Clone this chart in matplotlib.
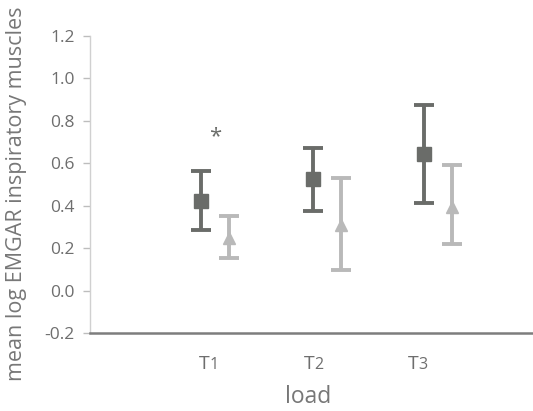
import numpy as np
import matplotlib
matplotlib.use("Agg")
import matplotlib.pyplot as plt
from matplotlib import transforms

# mean log EMGAR per load level, two conditions
loads = ["1", "2", "3"]
dark_mean = [0.424, 0.525, 0.644]
dark_hi = [0.565, 0.674, 0.875]
dark_lo = [0.286, 0.375, 0.414]
light_mean = [0.246, 0.309, 0.395]
light_hi = [0.353, 0.532, 0.592]
light_lo = [0.155, 0.097, 0.218]
star_y = 0.725

plt.rcParams['font.family'] = ['Open Sans', 'DejaVu Sans']

dark = "#6a6c69"
light = "#b9b9b9"
text_col = "#6e6e6e"

fig = plt.figure(figsize=(5.33, 4.11), dpi=100)
ax = fig.add_axes([90 / 533, 78 / 411, 443 / 533, 297 / 411])

x = np.arange(1, len(loads) + 1)
dx = 0.125

def bars(xs, mean, lo, hi, color, marker, ms):
    mean = np.array(mean)
    err = [mean - np.array(lo), np.array(hi) - mean]
    ax.errorbar(xs, mean, yerr=err, fmt=marker, color=color, ms=ms,
                elinewidth=2.8, capsize=7, capthick=2.8, zorder=3)

bars(x - dx, dark_mean, dark_lo, dark_hi, dark, "s", 10)
bars(x + dx, light_mean, light_lo, light_hi, light, "^", 8.5)

ax.text(x[0] + 0.01, star_y, "*", ha="center", va="center",
        fontsize=16, color=dark)

yt = np.arange(-0.2, 1.21, 0.2)
ax.set_ylim(-0.2, 1.2)
ax.set_xlim(-0.112, 3.844)
ax.set_yticks(yt)
ax.set_yticklabels([f"{v:.1f}" for v in yt])
ax.set_xticks([])

# load labels: capital T with a smaller index digit
trans = transforms.blended_transform_factory(ax.transData, fig.transFigure)
for xi, d in zip(x * 0.933, loads):
    ax.text(xi + 0.025, 42 / 411, "T", transform=trans, ha="right", va="baseline",
            fontsize=14, color=text_col)
    ax.text(xi + 0.025, 42 / 411, d, transform=trans, ha="left", va="baseline",
            fontsize=11.5, color=text_col)

for s in ["top", "right"]:
    ax.spines[s].set_visible(False)
ax.spines["left"].set_color("#d0d0d0")
ax.spines["left"].set_linewidth(1.0)
ax.spines["bottom"].set_color("#7d7d7d")
ax.spines["bottom"].set_linewidth(1.8)

ax.tick_params(axis="y", length=5, width=1, color="#bdbdbd",
               labelsize=12.5, labelcolor=text_col, pad=6)

ax.set_ylabel("mean log EMGAR inspiratory muscles", fontsize=15.5,
              color="#777777", va="center")
ax.yaxis.set_label_coords(-73 / 443, 0.47)
ax.set_xlabel("load", fontsize=16.5, color="#777777", va="center")
ax.xaxis.set_label_coords((308 - 90) / 443, -64 / 297)

fig.savefig("out.png", dpi=100)
